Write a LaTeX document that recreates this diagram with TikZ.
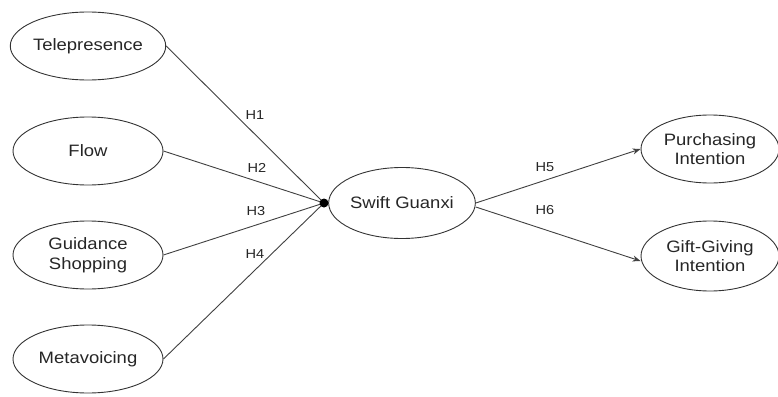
\documentclass[tikz,border=0pt]{standalone}
\usepackage{fontspec}
\setmainfont[FakeStretch=1.12]{Liberation Sans}
\usetikzlibrary{shapes.geometric,arrows.meta}
\begin{document}
\begin{tikzpicture}[x=1pt,y=-1pt,
  ell/.style={draw=black!80,line width=0.9pt,ellipse,minimum width=150pt,minimum height=68pt,inner sep=0pt,align=center,font=\fontsize{16.5}{19.5}\selectfont,text=black!85},
  lab/.style={font=\fontsize{13}{14}\selectfont,text=black!85,inner sep=0pt},
  link/.style={draw=black!75,line width=0.9pt},
  arr/.style={link,-{Stealth[length=8pt,width=6pt]}}]
\useasboundingbox (0,0) rectangle (778,396);
\node[ell] (tel) at (88,46) {Telepresence};
\node[ell] (flow) at (88,151) {Flow};
\node[ell] (guid) at (88,255) {Guidance\\Shopping};
\node[ell] (meta) at (88,359) {Metavoicing};
\node[ell,minimum width=146pt,minimum height=71pt] (sg) at (402,203) {Swift Guanxi};
\node[ell,minimum width=138pt] (pi) at (710,149) {Purchasing\\Intention};
\node[ell,minimum width=138pt,minimum height=70pt] (gi) at (710,256) {Gift-Giving\\Intention};
\coordinate (hub) at (324,203);
\draw[link] (tel.east) -- (hub);
\draw[link] (flow.east) -- (hub);
\draw[link] (guid.east) -- (hub);
\draw[link] (meta.east) -- (hub);
\fill[black] (hub) circle (4.5pt);
\draw[arr] (sg.east) -- (pi.west);
\draw[arr] ([yshift=-4pt]sg.east) -- ([yshift=-5pt]gi.west);
\node[lab] (h1) at (255,115) {H1};
\node[lab] (h2) at (257,168) {H2};
\node[lab] (h3) at (256,211) {H3};
\node[lab] (h4) at (255,254) {H4};
\node[lab] (h5) at (545,167) {H5};
\node[lab] (h6) at (545,210) {H6};
\end{tikzpicture}
\end{document}
